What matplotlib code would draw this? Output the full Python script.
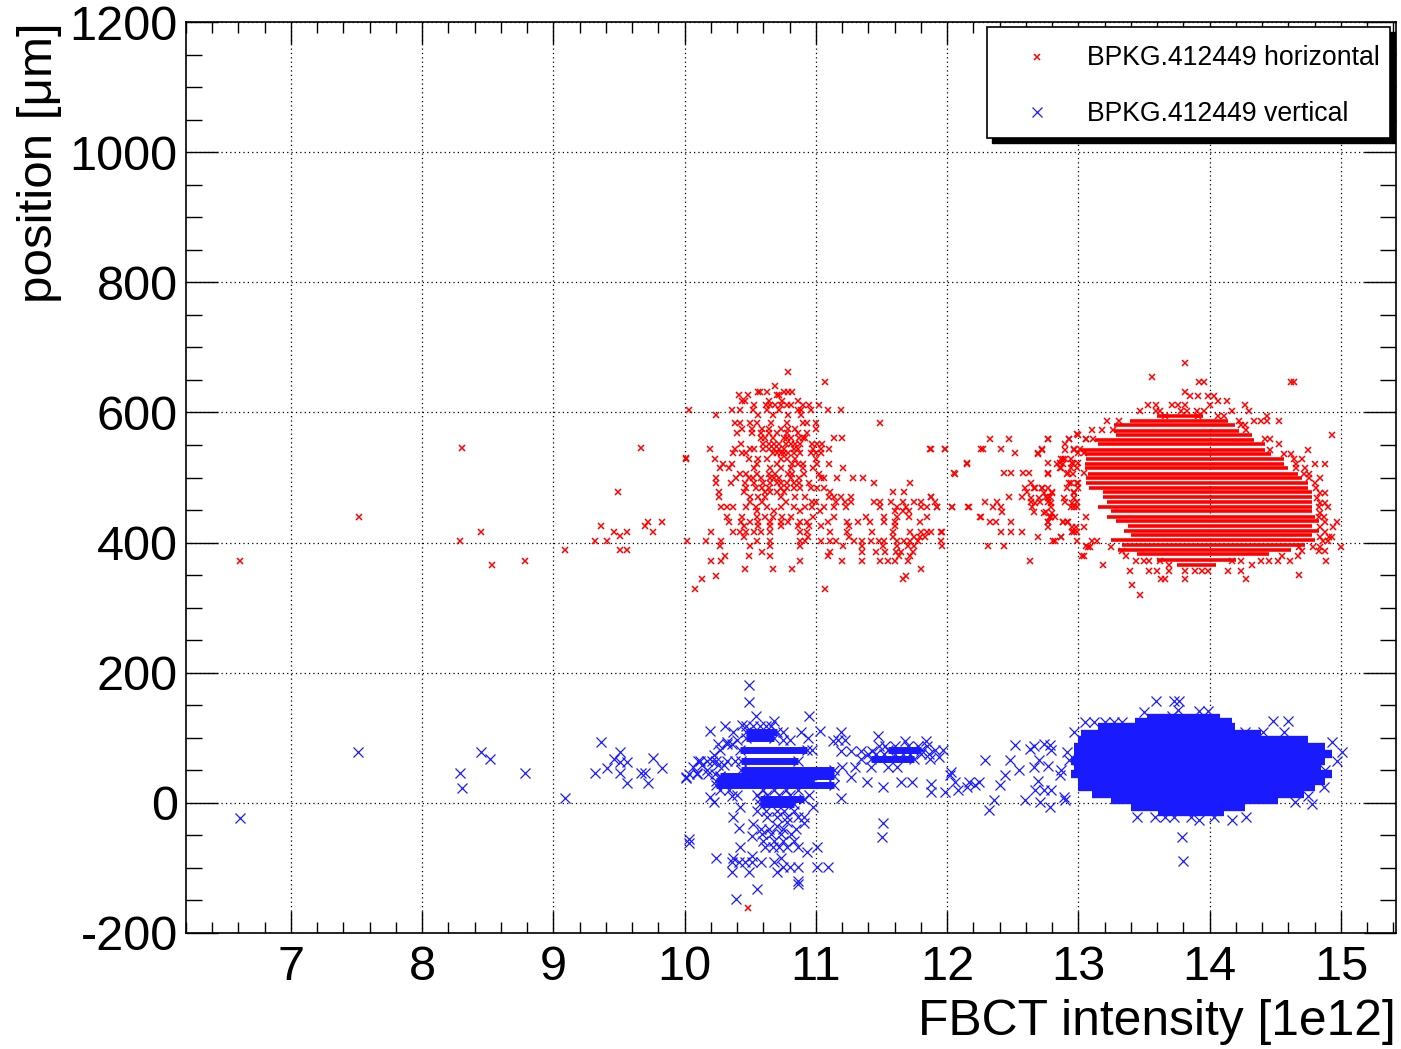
import numpy as np
import matplotlib
matplotlib.use('Agg')
import matplotlib.pyplot as plt
from matplotlib.patches import Rectangle
from matplotlib.lines import Line2D
from matplotlib.ticker import MultipleLocator

plt.rcParams['font.family'] = ['Liberation Sans', 'DejaVu Sans']
plt.rcParams['axes.unicode_minus'] = False

# ---------------- data (x: FBCT intensity [1e12], y: position [um]) ----------------
red_left_x = [6.61, 7.52, 8.30, 8.29, 8.45, 8.53, 8.78, 9.09, 9.67, 9.49, 9.36, 9.32,
              9.41, 9.46, 9.51, 9.51, 9.56, 9.56, 9.70, 9.72, 9.76, 9.83, 10.03, 10.01]
red_left_y = [372, 440, 545, 403, 417, 365, 372, 388, 545, 477, 425, 403,
              403, 417, 410, 388, 388, 417, 425, 432, 417, 432, 603, 530]

red_cluster_rows = [
    (662, [10.79]), (647, [11.07]), (641, [10.69]),
    (632, [10.56, 10.57, 10.63, 10.76, 10.79, 10.82]),
    (627, [10.41, 10.48, 10.70, 10.72]),
    (617, [10.44, 10.46, 10.64, 10.74, 10.86]),
    (612, [10.53, 10.62, 10.65, 10.69, 10.73, 10.78, 10.81, 10.90, 10.95, 11.02]),
    (603, [10.36, 10.42, 10.52, 10.63, 10.72, 10.86, 10.89, 10.96, 11.09, 11.19]),
    (596, [10.24, 10.56, 10.67, 10.79, 10.89]),
    (583, [10.38, 10.42, 10.50, 10.55, 10.66, 10.78, 10.90, 10.93, 11.00, 11.49]),
    (575, [10.44, 10.51, 10.59, 10.64, 10.73, 10.79, 10.84, 11.00]),
    (568, [10.40, 10.51, 10.58, 10.64, 10.70, 10.78, 10.86, 10.93]),
    (560, [10.58, 10.61, 10.67, 10.76, 10.78, 10.81, 10.87, 10.90, 10.92, 11.14, 11.20]),
    (552, [10.43, 10.60, 10.64, 10.68, 10.72, 10.77, 10.81, 10.84, 10.88, 10.97, 11.01, 11.05]),
    (544, [10.19, 10.38, 10.50, 10.53, 10.60, 10.64, 10.68, 10.72, 10.76, 10.83, 10.86, 10.98,
           11.04, 11.10, 11.87, 11.98, 12.26]),
    (537, [10.37, 10.44, 10.47, 10.67, 10.70, 10.73, 10.76, 10.79, 10.83, 10.88, 10.96, 11.00, 11.04]),
    (529, [10.01, 10.23, 10.49, 10.56, 10.63, 10.73, 10.78, 10.84, 11.00]),
    (521, [10.29, 10.36, 10.55, 10.70, 10.82, 10.86, 10.90, 11.01, 11.10, 12.15]),
    (514, [10.27, 10.34, 10.53, 10.65, 10.73, 10.81, 10.90, 10.98, 11.21]),
    (506, [10.42, 10.47, 10.55, 10.64, 10.69, 10.79, 10.82, 10.91, 11.02, 12.06]),
    (499, [10.24, 10.39, 10.49, 10.52, 10.58, 10.65, 10.68, 10.72, 10.81, 10.87, 11.04, 11.06,
           11.16, 11.28, 11.36]),
    (492, [10.24, 10.35, 10.46, 10.53, 10.60, 10.65, 10.70, 10.73, 10.78, 10.83, 10.87, 10.95,
           11.44, 11.72]),
    (484, [10.47, 10.54, 10.59, 10.64, 10.73, 10.78, 10.83, 10.88, 10.96, 11.01, 11.06]),
    (477, [10.26, 10.45, 10.61, 10.65, 10.70, 10.76, 11.11, 11.59, 11.67]),
    (470, [10.26, 10.50, 10.56, 10.61, 10.73, 10.84, 10.92, 11.10, 11.14, 11.19, 11.27, 11.88]),
    (462, [10.50, 10.59, 10.77, 10.97, 11.00, 11.15, 11.22, 11.27, 11.44, 11.49, 11.57, 11.66,
           11.75, 11.80]),
    (455, [10.28, 10.32, 10.37, 10.47, 10.54, 10.63, 10.73, 10.83, 10.92, 10.97, 11.06, 11.14,
           11.23, 11.49, 11.62, 11.69, 11.80, 11.85, 11.92, 12.04, 12.16]),
    (448, [10.55, 10.68, 10.88, 11.03, 11.60, 11.66, 11.71]),
    (440, [10.32, 10.44, 10.55, 10.61, 10.67, 10.74, 10.81, 10.98, 11.14, 11.38, 11.52, 11.62,
           11.71, 11.85, 12.25]),
    (432, [10.34, 10.43, 10.50, 10.56, 10.65, 10.73, 10.79, 10.88, 10.93, 11.09, 11.24, 11.32,
           11.41, 11.52, 11.60, 11.79]),
    (425, [10.45, 10.56, 10.65, 10.73, 10.86, 10.95, 11.04, 11.25, 11.60]),
    (417, [10.20, 10.37, 10.42, 10.47, 10.53, 10.58, 10.65, 10.88, 10.93, 11.11, 11.24, 11.43,
           11.59, 11.72, 11.80, 11.85, 11.95]),
    (409, [10.45, 10.94, 11.25, 11.59, 11.75, 11.79, 11.83]),
    (402, [10.02, 10.16, 10.28, 10.55, 10.65, 10.88, 10.92, 11.04, 11.11, 11.15, 11.29, 11.35,
           11.42, 11.48, 11.52, 11.62, 11.67, 11.72, 11.78, 11.95]),
    (394, [10.27, 10.50, 10.65, 10.88, 11.21, 11.35, 11.51, 11.62, 11.70, 11.75]),
    (386, [10.59, 11.11, 11.35, 11.46, 11.53, 11.61, 11.65, 11.74]),
    (380, [10.31, 10.49, 10.65, 11.09, 11.63, 11.72]),
    (372, [10.20, 10.28, 10.88, 11.20, 11.35, 11.49, 11.55, 11.60, 11.70]),
    (359, [10.46, 10.67, 10.82, 11.80]),
    (349, [10.24, 11.69]), (344, [10.13, 11.66]), (329, [10.08, 11.07]),
    (-162, [10.48]),
]

red_gap_rows = [
    (567, [12.99]), (559, [12.33, 12.47, 12.77, 12.93, 13.06]), (552, [12.90]),
    (544, [11.88, 11.98, 12.27, 12.41, 12.72, 12.97, 13.01]),
    (537, [12.52, 12.69, 13.00, 13.04]), (529, [12.87, 12.90]),
    (522, [12.15, 12.77, 12.86, 12.95, 13.00]), (514, [12.87, 12.99]),
    (507, [12.05, 12.43, 12.49, 12.58, 12.62, 12.77, 12.92, 13.04]),
    (492, [12.64, 12.94, 12.99]), (484, [12.59, 12.67, 12.72, 12.91, 13.00]),
    (477, [12.61, 12.80, 12.97]), (470, [11.88, 12.47, 12.57, 12.75, 12.78]),
    (462, [11.91, 12.29, 12.38, 12.64, 12.71, 12.77, 12.90, 12.99]),
    (455, [11.92, 12.04, 12.17, 12.35, 12.41, 12.79, 12.94, 12.99]),
    (447, [12.42, 12.66, 12.75]), (439, [12.26, 12.78, 12.82, 13.06]),
    (432, [12.33, 12.37, 12.49, 12.77, 12.88, 12.92]), (424, [12.77, 13.04]),
    (417, [11.88, 11.96, 12.41, 12.49, 12.57, 12.95, 12.99]), (409, [12.69, 12.87]),
    (402, [12.82, 12.99]), (395, [11.96, 12.31, 12.43, 13.06]), (380, [13.04]), (372, [12.63]),
]

red_edge_rows = [
    (676, [13.81]), (654, [13.56]), (647, [13.92, 13.96, 14.62, 14.64]), (631, [13.81]),
    (626, [13.85, 13.91, 13.99, 14.03]), (617, [14.06, 14.13]),
    (611, [13.53, 13.59, 13.71, 13.76, 13.81, 14.00, 14.27]),
    (602, [13.47, 13.59, 13.62, 13.78, 13.83, 13.90, 13.96, 14.17, 14.30]),
    (595, [13.66, 13.91, 14.06, 14.11, 14.44]),
    (587, [13.22, 13.31, 14.22, 14.34, 14.39, 14.44, 14.53]),
    (581, [14.24, 14.27]), (573, [13.10, 13.18, 13.26, 14.28]), (566, [13.00, 14.93]),
    (559, [12.77, 12.93, 13.06, 13.11, 14.42, 14.46]), (551, [14.53]),
    (543, [12.72, 12.90, 12.97, 14.46, 14.75]), (536, [12.69, 14.57, 14.62]),
    (528, [12.88, 12.94, 14.64, 14.70]), (521, [12.84, 12.88, 12.96, 14.66, 14.80, 14.88]),
    (514, [12.86, 12.94, 14.66, 14.73]), (506, [12.77, 12.91, 12.96, 14.72, 14.76]),
    (499, [14.76, 14.84]),
    (492, [12.93, 13.00, 14.80]), (484, [12.66, 12.72, 12.77, 14.81]),
    (476, [12.74, 12.80, 12.97, 14.84, 14.88]), (469, [12.64, 12.70, 12.77, 12.89, 12.97, 14.82]),
    (461, [12.67, 12.79, 12.95, 14.84, 14.88]), (454, [12.65, 12.97, 14.83, 14.90]),
    (446, [12.74, 12.80, 14.84]), (439, [12.78, 12.79, 14.83, 14.87]),
    (431, [12.77, 12.88, 12.91, 14.88, 14.97]), (424, [12.95, 12.98, 14.84, 14.94]),
    (416, [12.97, 14.88]), (409, [12.87, 14.84, 14.91, 14.93]), (402, [12.81, 13.10, 13.14, 14.86, 14.90]),
    (393, [13.07, 13.09, 13.25, 14.68, 14.79, 14.84, 15.00]), (387, [13.33, 14.70, 14.83, 14.88]),
    (380, [13.03, 13.36, 14.55, 14.67]),
    (372, [13.44, 13.50, 13.54, 13.62, 14.17, 14.24, 14.39, 14.45, 14.52, 14.61, 14.89]),
    (365, [13.19, 13.69, 14.32]),
    (357, [13.39, 13.54, 13.60, 13.69, 13.81, 13.89, 13.94, 13.99, 14.14, 14.24]),
    (350, [14.68]), (344, [13.63, 13.66, 13.81, 14.28]), (335, [13.41]), (319, [13.47]),
]

# saturated core of the horizontal cloud: (row position, first, last intensity)
red_core_y = [595, 587, 580, 572, 565, 558, 551, 543, 536, 528, 521, 514, 506, 499, 492, 484,
              477, 470, 462, 455, 448, 440, 433, 426, 418, 411, 404, 396, 389, 382, 373, 366]
red_core_x0 = [13.60, 13.39, 13.27, 13.27, 13.29, 13.13, 13.15, 13.02, 13.05, 13.06, 13.05,
               13.05, 13.07, 13.06, 13.06, 13.08, 13.19, 13.19, 13.22, 13.15, 13.25, 13.22,
               13.29, 13.38, 13.35, 13.40, 13.25, 13.33, 13.30, 13.45, 13.60, 13.75]
red_core_x1 = [13.95, 14.14, 14.19, 14.22, 14.32, 14.34, 14.42, 14.42, 14.47, 14.57, 14.57,
               14.60, 14.67, 14.70, 14.75, 14.75, 14.78, 14.78, 14.78, 14.78, 14.78, 14.80,
               14.83, 14.78, 14.83, 14.78, 14.80, 14.73, 14.62, 14.45, 14.20, 14.05]

blue_left_x = [6.61, 7.51, 8.29, 8.30, 8.45, 8.52, 8.78, 9.09, 9.36, 9.32, 9.41, 9.46, 9.51,
               9.51, 9.56, 9.51, 9.56, 9.67, 9.70, 9.72, 9.76, 9.83, 10.01, 10.09, 10.10, 10.03]
blue_left_y = [-24, 78, 46, 23, 78, 68, 46, 7, 93, 46, 54, 68, 78,
               63, 63, 46, 31, 46, 46, 31, 69, 54, 38, 46, 64, -56]

blue_cluster_x = [10.49, 10.49, 10.54, 10.68, 10.95, 10.19, 10.31, 10.37, 10.44, 10.75, 10.89,
                  10.94, 11.03, 11.19, 11.47, 11.68, 11.84, 10.32, 11.13, 10.27, 10.97, 11.19,
                  11.27, 11.34, 11.43, 11.91, 11.97, 10.22, 10.12, 10.24, 11.34, 11.87, 11.94,
                  10.06, 10.17, 10.01, 10.27, 11.27, 11.39, 11.51, 11.65, 11.73, 11.88, 11.88,
                  11.98, 12.03, 12.06, 12.15, 12.17, 12.24, 10.19, 10.36, 11.19, 10.22, 10.42,
                  10.98, 10.37, 10.63, 10.70, 10.78, 10.86, 10.91, 10.41, 10.52, 10.70, 10.78,
                  10.91, 11.51, 11.50, 10.03, 10.51, 10.59, 10.66, 10.73, 10.81, 10.42, 10.61,
                  10.67, 10.72, 10.78, 10.86, 10.93, 11.01, 10.24, 10.37, 10.51, 10.73, 10.36,
                  10.41, 10.46, 10.51, 10.58, 10.68, 10.75, 10.80, 10.86, 10.36, 10.49, 10.70,
                  11.01, 11.09, 10.86, 10.86, 10.55, 10.39]
blue_cluster_y = [181, 155, 134, 126, 134, 110, 118, 109, 119, 109, 109,
                  100, 110, 109, 102, 95, 95, 94, 95, 81, 81, 79,
                  79, 79, 79, 81, 81, 73, 65, 65, 68, 68, 71,
                  55, 50, 40, 40, 40, 32, 24, 32, 32, 29, 16,
                  16, 47, 32, 24, 32, 32, 9, 10, 8, 1, -7,
                  -7, -22, -22, -22, -22, -22, -22, -38, -32, -35, -30,
                  -31, -31, -52, -61, -51, -48, -48, -48, -48, -68, -68,
                  -68, -68, -68, -68, -76, -68, -84, -84, -81, -84, -91,
                  -91, -91, -91, -91, -91, -99, -99, -99, -107, -107, -107,
                  -99, -99, -120, -125, -133, -147]

blue_cluster_rows = [
    (118, [10.47, 10.52, 10.57, 10.62, 10.66]),
    (96, [10.40, 10.75, 10.80, 11.17, 11.22]),
    (90, [10.25, 10.32, 10.36]),
    (88, [11.48, 11.53, 11.60, 11.70, 11.78, 11.85]),
    (75, [11.40, 11.46, 11.52, 11.60, 11.66, 11.72, 11.80, 11.86]),
    (65, [10.17, 10.21, 10.32, 10.38]),
    (58, [10.13, 10.25, 10.30]),
    (55, [11.20, 11.30, 11.42, 11.55, 11.62]),
    (45, [10.03, 10.09, 10.18, 10.23]),
    (20, [10.27, 10.34, 10.60, 10.68, 10.77, 10.86]),
    (12, [10.40, 10.55, 10.63, 10.72, 10.80, 10.95]),
    (-12, [10.55, 10.62, 10.70, 10.76, 10.83]),
    (-40, [10.58, 10.64, 10.75, 10.85]),
    (-58, [10.60, 10.68, 10.75, 10.83]),
]

# dense bands in the 10-12 cluster: (row position, first, last intensity)
blue_band_y = [109, 100, 81, 81, 68, 65, 50, 42, 34, 27, 6, -2]
blue_band_x0 = [10.47, 10.47, 10.42, 11.55, 11.42, 10.43, 10.43, 10.27, 10.24, 10.24, 10.57, 10.57]
blue_band_x1 = [10.70, 10.68, 10.93, 11.80, 11.75, 10.86, 11.14, 11.14, 10.98, 11.14, 10.91, 10.83]

blue_gap_x = [12.02, 12.08, 12.21, 12.29, 12.36, 12.32, 12.40, 12.48, 12.55, 12.63, 12.70,
              12.74, 12.78, 12.86, 12.90, 12.93, 12.67, 12.59, 12.44, 12.52]
blue_gap_y = [43, 20, 28, 66, 5, -11, 28, 66, 51, 82, 66, 20, 89, 43, 5, 66, 20, 5, 43, 89]

blue_edge_x = [13.59, 13.73, 13.77, 13.50, 13.76, 13.92, 13.99, 13.71, 13.05, 13.12, 13.20,
               13.27, 13.33, 14.48, 14.60, 12.97, 14.41, 14.57, 14.27, 14.93, 12.74, 12.66,
               12.79, 12.91, 15.01, 14.97, 12.77, 12.66, 14.88, 12.87, 12.69, 14.87, 12.79,
               12.89, 12.71, 12.78, 14.75, 14.78, 14.65, 13.45, 13.58, 13.66, 13.73, 13.86,
               13.92, 14.03, 14.17, 14.28, 13.79, 13.80]
blue_edge_y = [156, 156, 156, 139, 142, 141, 141, 134, 124, 124, 124,
               124, 124, 126, 126, 109, 109, 109, 109, 93, 91, 88,
               81, 78, 78, 65, 57, 55, 50, 50, 34, 24, 19,
               9, 1, -7, 11, -2, 1, -22, -22, -22, -22, -22,
               -27, -22, -27, -22, -52, -89]

# saturated core of the vertical cloud
blue_core_y = [131, 124, 116, 106, 96, 86, 75, 65, 55, 45, 34, 24, 14, 4, -7, -14]
blue_core_x0 = [13.52, 13.43, 13.15, 13.02, 13.00, 12.97, 12.97, 12.94, 12.97, 12.94, 13.00,
                13.00, 13.10, 13.25, 13.40, 13.61]
blue_core_x1 = [14.08, 14.17, 14.19, 14.39, 14.75, 14.88, 14.93, 14.88, 14.85, 14.93, 14.88,
                14.80, 14.72, 14.52, 14.27, 14.11]

x_ticks = [7, 8, 9, 10, 11, 12, 13, 14, 15]
y_ticks = [-200, 0, 200, 400, 600, 800, 1000, 1200]
label_h = 'BPKG.412449 horizontal'
label_v = 'BPKG.412449 vertical'


def flatten(rows):
    xs, ys = [], []
    for yv, xl in rows:
        xs.extend(xl)
        ys.extend([yv] * len(xl))
    return xs, ys


W, H = 1401, 1049
fig = plt.figure(figsize=(W / 100, H / 100), dpi=100)
ax = fig.add_axes([186 / W, 1 - 933 / H, (1396 - 186) / W, (933 - 22) / H])

RED = (1.0, 0.0, 0.0)
BLUE = (0.1, 0.1, 1.0)

# horizontal (red)
rx, ry = list(red_left_x), list(red_left_y)
for rows in (red_cluster_rows, red_gap_rows, red_edge_rows):
    a, b = flatten(rows)
    rx += a
    ry += b
ax.hlines(red_core_y, red_core_x0, red_core_x1, colors=[RED], lw=2.6, zorder=3)
ax.plot(rx, ry, ls='none', marker='x', ms=4.0, mew=1.1, color=RED, zorder=3)

# vertical (blue)
ax.hlines(blue_core_y, blue_core_x0, blue_core_x1, colors=[BLUE], lw=6.0, zorder=3)
ax.hlines(blue_band_y, blue_band_x0, blue_band_x1, colors=[BLUE], lw=5.0, zorder=3)
cx, cy = flatten(blue_cluster_rows)
bx = (blue_left_x + blue_cluster_x + cx + blue_gap_x + blue_edge_x
      + blue_band_x0 + blue_band_x1)
by = (blue_left_y + blue_cluster_y + cy + blue_gap_y + blue_edge_y
      + blue_band_y + blue_band_y)
ax.plot(bx, by, ls='none', marker='x', ms=7.3, mew=0.9, color=BLUE, zorder=3)

ax.set_xlim(6.2, 15.42)
ax.set_ylim(-200, 1200)
ax.set_xticks(x_ticks)
ax.set_yticks(y_ticks)
ax.xaxis.set_minor_locator(MultipleLocator(0.2))
ax.yaxis.set_minor_locator(MultipleLocator(50))
ax.set_xticklabels([str(t) for t in x_ticks])
ax.set_yticklabels([str(t) for t in y_ticks])

ax.tick_params(axis='both', which='both', direction='in', top=True, right=True,
               width=1.0, color='black', labelsize=35)
ax.tick_params(axis='x', which='major', length=16, pad=9)
ax.tick_params(axis='x', which='minor', length=8)
ax.tick_params(axis='y', which='major', length=23, pad=6)
ax.tick_params(axis='y', which='minor', length=11.5)

ax.grid(True, which='major', color='black', linestyle=(0, (1, 2.5)), lw=0.9)
ax.set_axisbelow(True)
for s in ax.spines.values():
    s.set_linewidth(1.2)

fig.text(40 / W, 1 - 22 / H, 'position [\u03bcm]', rotation=90, ha='center', va='top',
         fontsize=35.5)
fig.text(1396 / W, 1 - 1022 / H, 'FBCT intensity [1e12]', ha='right', va='center',
         fontsize=35.8)

# legend box with ROOT-style shadow
shadow = Rectangle((992 / W, 1 - 143 / H), 403 / W, 111 / H, transform=fig.transFigure,
                   facecolor='black', edgecolor='black', zorder=10)
box = Rectangle((987 / W, 1 - 138 / H), 403 / W, 111 / H, transform=fig.transFigure,
                facecolor='white', edgecolor='black', lw=1.2, zorder=11)
fig.add_artist(shadow)
fig.add_artist(box)
fig.add_artist(Line2D([1037 / W], [1 - 57 / H], transform=fig.transFigure, ls='none',
                      marker='x', ms=4.0, mew=1.1, color=RED, zorder=12))
fig.add_artist(Line2D([1037 / W], [1 - 112 / H], transform=fig.transFigure, ls='none',
                      marker='x', ms=7.3, mew=0.9, color=BLUE, zorder=12))
fig.text(1087 / W, 1 - 58 / H, label_h, ha='left', va='center', fontsize=19.2, zorder=12)
fig.text(1087 / W, 1 - 114 / H, label_v, ha='left', va='center', fontsize=19.2, zorder=12)

fig.savefig('out.png', dpi=100)
